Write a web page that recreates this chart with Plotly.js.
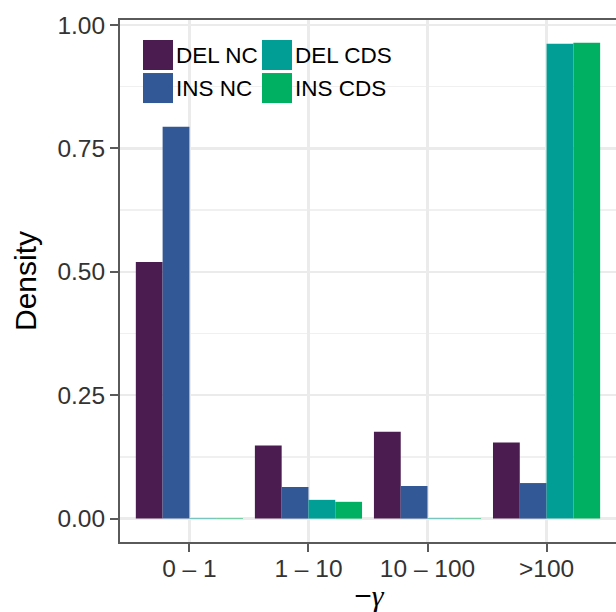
<!DOCTYPE html>
<html>
<head>
<meta charset="utf-8">
<script src="https://cdn.plot.ly/plotly-3.0.1.min.js"></script>
<style>
html, body { margin: 0; padding: 0; overflow: hidden; background: #fff; }
#chart { width: 618px; height: 612px; }
</style>
</head>
<body>
<div id="chart"></div>
<script>
// ---- data ----
var categories = ["0 \u2013 1", "1 \u2013 10", "10 \u2013 100", ">100"];
var seriesNames = ["DEL NC", "INS NC", "DEL CDS", "INS CDS"];
var seriesColors = ["#4b1c50", "#325895", "#009e94", "#00b062"];
var delNC  = [0.520, 0.148, 0.176, 0.154];
var insNC  = [0.794, 0.064, 0.066, 0.072];
var delCDS = [0.001, 0.038, 0.001, 0.962];
var insCDS = [0.001, 0.034, 0.001, 0.964];
var yTickVals = [0, 0.25, 0.5, 0.75, 1.0];
var yMinorVals = [0.125, 0.375, 0.625, 0.875];

var seriesValues = [delNC, insNC, delCDS, insCDS];

var traces = seriesValues.map(function (vals, i) {
  return {
    type: "bar",
    name: seriesNames[i],
    x: categories,
    y: vals,
    marker: { color: seriesColors[i], line: { width: 0 } },
    showlegend: false,
    hoverinfo: "x+y+name"
  };
});

// ---- layout geometry (pixels) ----
var W = 618, H = 612;
var mL = 120, mR = 0, mT = 20, mB = 70.3;
var plotW = W - mL - mR, plotH = H - mT - mB;
function px2x(px) { return (px - mL) / plotW; }
function px2y(py) { return (H - mB - py) / plotH; }

// manual legend (2 columns, filled column-wise like ggplot)
var legendCols = [[0, 1], [2, 3]];
var colKeyLeft = [143, 262];
var rowTop = [40, 73];
var keySize = 30;
var shapes = [];
var annotations = [];
legendCols.forEach(function (col, c) {
  col.forEach(function (si, r) {
    shapes.push({
      type: "rect", xref: "paper", yref: "paper",
      x0: px2x(colKeyLeft[c]), x1: px2x(colKeyLeft[c] + keySize),
      y0: px2y(rowTop[r] + keySize), y1: px2y(rowTop[r]),
      fillcolor: seriesColors[si], line: { width: 0 }, layer: "above"
    });
    annotations.push({
      xref: "paper", yref: "paper",
      x: px2x(colKeyLeft[c] + keySize + 0.5), y: px2y(rowTop[r] + keySize / 2),
      xanchor: "left", yanchor: "middle", showarrow: false,
      text: seriesNames[si],
      font: { size: 22.5, color: "#000", family: "Liberation Sans, Arial, sans-serif" }
    });
  });
});

var layout = {
  width: W, height: H,
  margin: { l: mL, r: mR, t: mT, b: mB, pad: 0 },
  paper_bgcolor: "#ffffff",
  plot_bgcolor: "#ffffff",
  font: { family: "Liberation Sans, Arial, sans-serif", color: "#333" },
  barmode: "group",
  bargap: 0.1,
  bargroupgap: 0,
  showlegend: false,
  xaxis: {
    type: "category",
    range: [-0.583, 3.6],
    showgrid: true, gridcolor: "#ebebeb", gridwidth: 2.5,
    zeroline: false,
    showline: true, linecolor: "#5a5a5a", linewidth: 2, mirror: true,
    ticks: "outside", ticklen: 8, tickwidth: 2, tickcolor: "#5a5a5a",
    ticklabelstandoff: -4,
    tickfont: { size: 24.5, color: "#333" },
    title: {
      text: "<span style=\"font-family:'Liberation Sans', Arial, sans-serif\">\u2212</span><i>\u03b3</i>",
      font: { size: 30, color: "#000", family: "Liberation Serif, DejaVu Serif, serif" },
      standoff: 10
    },
    fixedrange: true
  },
  yaxis: {
    range: [-0.0474, 1.0101],
    tickvals: yTickVals, tickformat: ".2f",
    showgrid: true, gridcolor: "#ebebeb", gridwidth: 2.5,
    minor: { tickvals: yMinorVals, showgrid: true, gridcolor: "#f0f0f0", gridwidth: 1.3, ticks: "" },
    zeroline: false,
    showline: true, linecolor: "#5a5a5a", linewidth: 2, mirror: true,
    ticks: "outside", ticklen: 8, tickwidth: 2, tickcolor: "#5a5a5a",
    tickfont: { size: 24.5, color: "#333" },
    title: { text: "Density", font: { size: 30, color: "#000" }, standoff: 12 },
    fixedrange: true
  },
  shapes: shapes,
  annotations: annotations
};

Plotly.newPlot("chart", traces, layout, { displayModeBar: false, staticPlot: true });
</script>
</body>
</html>
